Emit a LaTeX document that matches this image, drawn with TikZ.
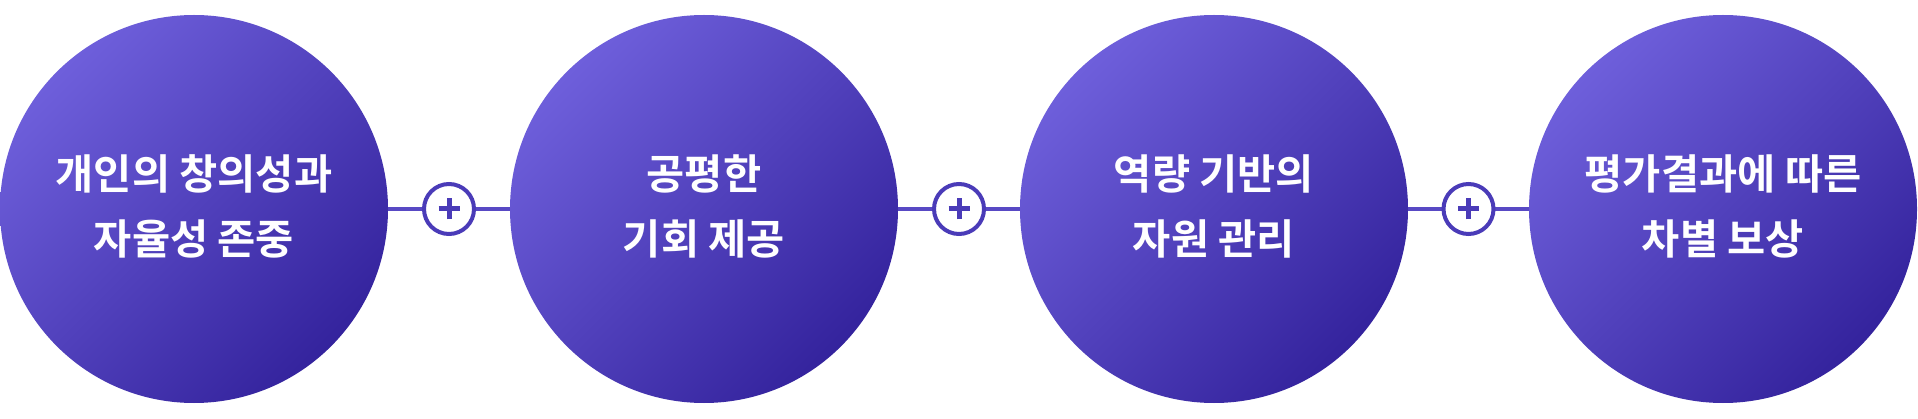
\documentclass[tikz,border=0pt]{standalone}
\usepackage{fontspec}
\newfontfamily\kr{Noto Sans CJK KR Bold}
\definecolor{gradA}{HTML}{6E5FDB}
\definecolor{gradB}{HTML}{34239D}
\definecolor{ringc}{HTML}{4A3BB8}
\definecolor{linkc}{HTML}{5849C4}
\begin{document}
\begin{tikzpicture}[x=1pt,y=1pt,
  bigcircle/.style={circle, inner sep=0pt, minimum size=388pt, top color=gradA, bottom color=gradB, shading angle=45},
  label/.style={text=white, anchor=base, inner sep=0pt, font=\kr\fontsize{41.5}{50}\selectfont},
  pluscirc/.style={circle, inner sep=0pt, minimum size=50pt, draw=ringc, line width=4pt, fill=white},
  link/.style={draw=linkc, line width=4pt},
  plusbar/.style={draw=ringc, line width=5pt}
]
\useasboundingbox (0,0) rectangle (1918,418);
\node[bigcircle] (c1) at (194,209) {};
\node[bigcircle] (c2) at (704,209) {};
\node[bigcircle] (c3) at (1214,209) {};
\node[bigcircle] (c4) at (1723,209) {};
\node[label] (t1a) at (194,228) {개인의 창의성과};
\node[label] (t1b) at (194,164) {자율성 존중};
\node[label] (t2a) at (704,228) {공평한};
\node[label] (t2b) at (704,164) {기회 제공};
\node[label] (t3a) at (1214,228) {역량 기반의};
\node[label] (t3b) at (1214,164) {자원 관리};
\node[label] (t4a) at (1723,228) {평가결과에 따른};
\node[label] (t4b) at (1723,164) {차별 보상};
\coordinate (m1) at (449,209);
\coordinate (m2) at (959,209);
\coordinate (m3) at (1468.5,209);
\draw[link] (c1) -- (m1) -- (c2);
\draw[link] (c2) -- (m2) -- (c3);
\draw[link] (c3) -- (m3) -- (c4);
\foreach \i in {1,2,3}{
  \node[pluscirc] (p\i) at (m\i) {};
  \draw[plusbar] ([xshift=-10.5pt]p\i.center) -- ([xshift=10.5pt]p\i.center);
  \draw[plusbar] ([yshift=-10.5pt]p\i.center) -- ([yshift=10.5pt]p\i.center);
}
\end{tikzpicture}
\end{document}
